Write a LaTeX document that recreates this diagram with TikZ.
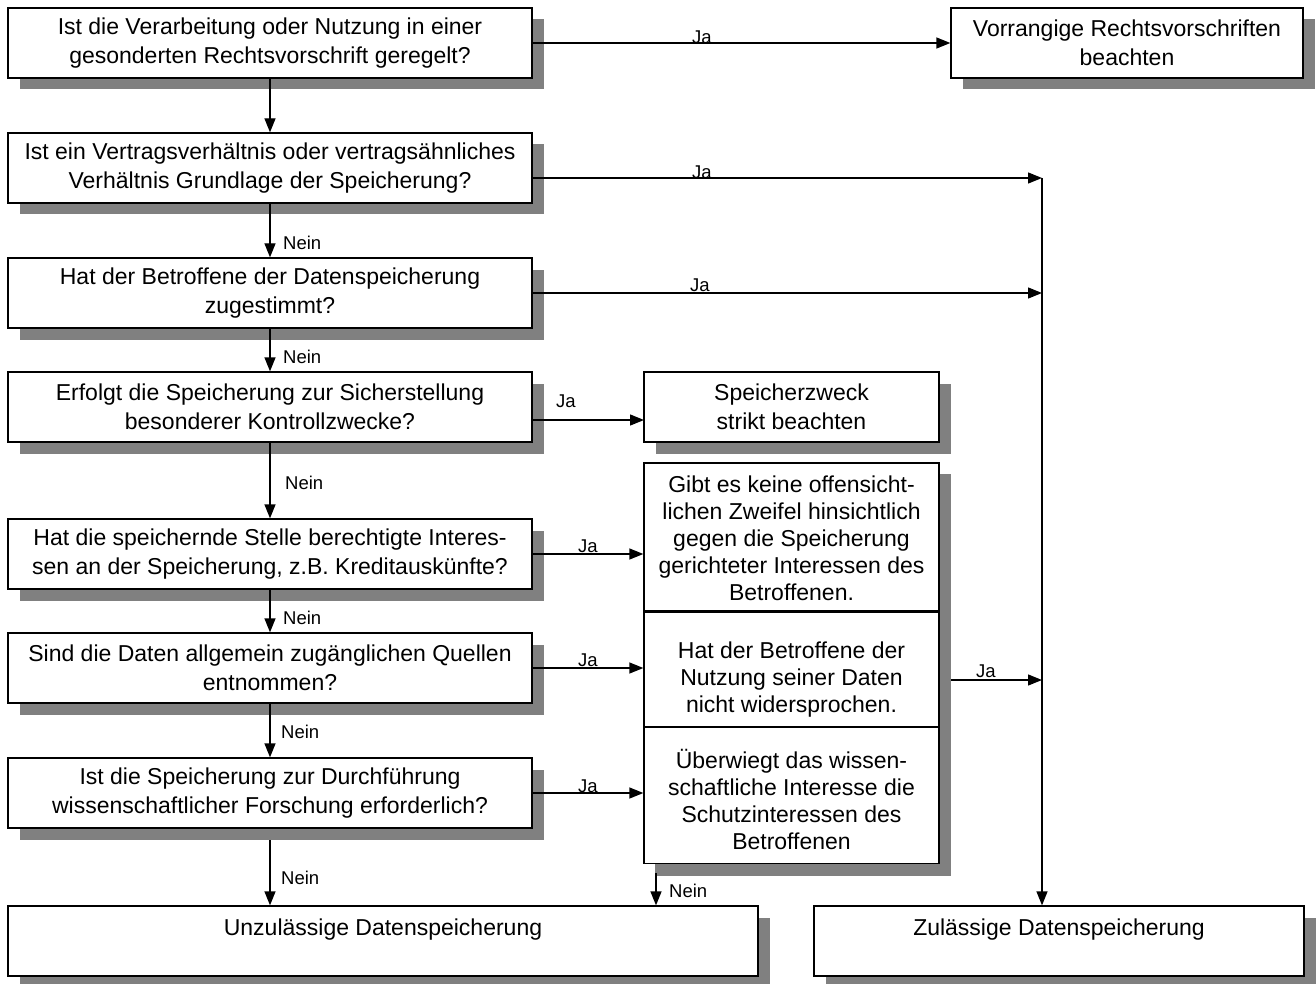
\documentclass[tikz,border=0pt]{standalone}
\usepackage{fontspec}
\setmainfont{Liberation Sans}
\usetikzlibrary{arrows.meta,shadows,backgrounds}
\definecolor{shd}{RGB}{128,128,128}
\begin{document}
\begin{tikzpicture}[x=1pt,y=-1pt,
  box/.style={draw=black, line width=1.3pt, fill=white, align=center, inner sep=0pt,
    minimum height=70pt,
    font=\fontsize{23}{28.5}\selectfont,
    drop shadow={shadow xshift=11.5pt, shadow yshift=-11.5pt, fill=shd, opacity=1}},
  sect/.style={draw=black, line width=1.3pt, fill=white, align=center, inner sep=0pt,
    minimum width=295pt, font=\fontsize{23}{27}\selectfont},
  lab/.style={font=\fontsize{18.5}{20}\selectfont, inner sep=0pt},
  arr/.style={line width=1.3pt, -{Triangle[length=14pt,width=11pt]}}]
\useasboundingbox (0,0) rectangle (1316,984);

% left column
\node[box, minimum width=524pt] (b1) at (270,43) {Ist die Verarbeitung oder Nutzung in einer\\gesonderten Rechtsvorschrift geregelt?};
\node[box, minimum width=524pt] (b2) at (270,168) {Ist ein Vertragsverhältnis oder vertragsähnliches\\Verhältnis Grundlage der Speicherung?};
\node[box, minimum width=524pt] (b3) at (270,293) {Hat der Betroffene der Datenspeicherung\\zugestimmt?};
\node[box, minimum width=524pt] (b4) at (270,407) {Erfolgt die Speicherung zur Sicherstellung\\besonderer Kontrollzwecke?};
\node[box, minimum width=524pt] (b5) at (270,554) {Hat die speichernde Stelle berechtigte Interes-\\sen an der Speicherung, z.B. Kreditauskünfte?};
\node[box, minimum width=524pt] (b6) at (270,668) {Sind die Daten allgemein zugänglichen Quellen\\entnommen?};
\node[box, minimum width=524pt] (b7) at (270,793) {Ist die Speicherung zur Durchführung\\wissenschaftlicher Forschung erforderlich?};

% right / middle boxes
\node[box, minimum width=352pt] (vor) at (1127,43) {Vorrangige Rechtsvorschriften\\beachten};
\node[box, minimum width=295pt] (spz) at (791.5,407) {Speicherzweck\\strikt beachten};

\node[sect, minimum height=148pt] (s1) at (791.5,537) {\rule{0pt}{20pt}Gibt es keine offensicht-\\lichen Zweifel hinsichtlich\\gegen die Speicherung\\gerichteter Interessen des\\Betroffenen.};
\node[sect, minimum height=114pt, anchor=north] (s2) at (s1.south) {\rule{0pt}{37pt}Hat der Betroffene der\\Nutzung seiner Daten\\nicht widersprochen.};
\node[sect, minimum height=136pt, anchor=north] (s3) at (s2.south) {\rule{0pt}{28pt}Überwiegt das wissen-\\schaftliche Interesse die\\Schutzinteressen des\\Betroffenen};
\begin{scope}[on background layer]
  \fill[shd] ([xshift=11.5pt,yshift=-11.5pt]s1.north west) rectangle ([xshift=11.5pt,yshift=-11.5pt]s3.south east);
\end{scope}

% bottom boxes
\node[box, minimum width=750pt] (unz) at (383,941) {Unzulässige Datenspeicherung\\\mbox{}};
\node[box, minimum width=490pt] (zul) at (1059,941) {Zulässige Datenspeicherung\\\mbox{}};

% helper coordinates
\coordinate (j2) at (1042,178);
\coordinate (j3) at (1042,293);
\coordinate (jb) at (1042,680);
\coordinate (jbs) at (951,680);
\coordinate (a4) at (644,420);
\coordinate (nbs) at (656,873);

% Ja connectors
\draw[arr] (b1) -- (vor);
\draw[arr] (b2.east |- j2) -- (j2);
\draw[arr] (b3.east) -- (j3);
\draw[arr] (b4.east |- a4) -- (a4);
\draw[arr] (b5) -- (b5 -| s1.west);
\draw[arr] (b6) -- (b6 -| s2.west);
\draw[arr] (b7) -- (b7 -| s3.west);
\draw[arr] (jbs) -- (jb);
\draw[arr] (j2) -- (j2 |- zul.north);

% Nein connectors
\draw[arr] (b1) -- (b2);
\draw[arr] (b2) -- (b3);
\draw[arr] (b3) -- (b4);
\draw[arr] (b4) -- (b5);
\draw[arr] (b5) -- (b6);
\draw[arr] (b6) -- (b7);
\draw[arr] ([yshift=-11.5pt]b7.south) -- (b7.south |- unz.north);
\draw[arr] (nbs) -- (nbs |- unz.north);

% labels
\node[lab] (lj1) at (702,37) {Ja};
\node[lab] (lj2) at (702,172) {Ja};
\node[lab] (lj3) at (700,285) {Ja};
\node[lab] (lj4) at (566,401) {Ja};
\node[lab] (lj5) at (588,546) {Ja};
\node[lab] (lj6) at (588,660) {Ja};
\node[lab] (lj7) at (588,786) {Ja};
\node[lab] (lj8) at (986,671) {Ja};
\node[lab, anchor=west] (ln2) at (283,243) {Nein};
\node[lab, anchor=west] (ln3) at (283,357) {Nein};
\node[lab, anchor=west] (ln4) at (285,483) {Nein};
\node[lab, anchor=west] (ln5) at (283,618) {Nein};
\node[lab, anchor=west] (ln6) at (281,732) {Nein};
\node[lab, anchor=west] (ln7) at (281,878) {Nein};
\node[lab, anchor=west] (ln8) at (669,891) {Nein};
\end{tikzpicture}
\end{document}
